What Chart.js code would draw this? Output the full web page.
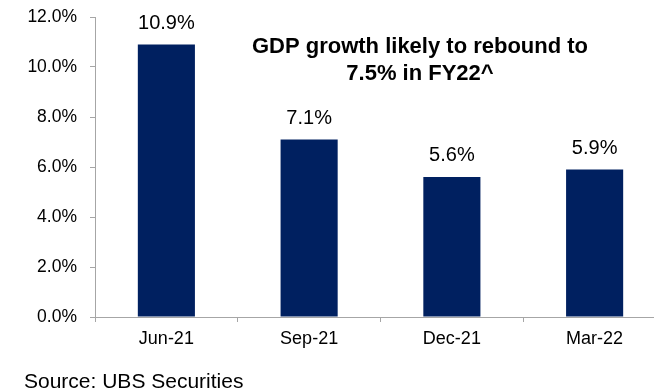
<!DOCTYPE html>
<html>
<head>
<meta charset="utf-8">
<script src="https://cdn.jsdelivr.net/npm/chart.js@4/dist/chart.umd.min.js"></script>
<style>
  html, body { margin: 0; padding: 0; background: #fff; overflow: hidden; }
  #wrap { position: relative; width: 666px; height: 390px; }
</style>
</head>
<body>
<div id="wrap"><canvas id="c" width="666" height="390"></canvas></div>
<script>
// Quarterly real GDP growth, year on year (%)
const quarters = ['Jun-21', 'Sep-21', 'Dec-21', 'Mar-22'];
const gdpGrowth = [10.9, 7.1, 5.6, 5.9];
const yTicks = [0, 2, 4, 6, 8, 10, 12];
const titleLines = ['GDP growth likely to rebound to', '7.5% in FY22^'];
const sourceNote = 'Source: UBS Securities';

const FONT = "'Liberation Sans', Arial, Helvetica, sans-serif";
const NAVY = '#002060';
const AXIS_GREY = '#a6a6a6';

// Value labels above each bar, plus the headline and source note
const annotate = {
  id: 'annotate',
  afterDatasetsDraw(chart) {
    const ctx = chart.ctx;
    const meta = chart.getDatasetMeta(0);
    ctx.save();
    ctx.fillStyle = '#000';
    ctx.textAlign = 'center';
    ctx.textBaseline = 'alphabetic';
    ctx.font = '20px ' + FONT;
    meta.data.forEach((bar, i) => {
      ctx.fillText(gdpGrowth[i].toFixed(1) + '%', bar.x, bar.y - 16);
    });

    ctx.font = 'bold 22px ' + FONT;
    ctx.fillText(titleLines[0], 420, 53);
    ctx.fillText(titleLines[1], 420, 80);

    ctx.textAlign = 'left';
    ctx.font = '21px ' + FONT;
    ctx.fillText(sourceNote, 24, 388);
    ctx.restore();
  }
};

const chart = new Chart(document.getElementById('c'), {
  type: 'bar',
  data: {
    labels: quarters,
    datasets: [{
      data: gdpGrowth,
      backgroundColor: NAVY,
      borderWidth: 0,
      categoryPercentage: 1.0,
      barPercentage: 0.4
    }]
  },
  options: {
    responsive: false,
    animation: false,
    devicePixelRatio: 1,
    layout: { padding: { top: 17, left: 0, right: 0, bottom: 0 } },
    plugins: {
      legend: { display: false },
      tooltip: { enabled: false },
      title: { display: false }
    },
    scales: {
      x: {
        offset: true,
        grid: {
          display: true,
          drawOnChartArea: false,
          drawTicks: true,
          tickLength: 5,
          color: AXIS_GREY,
          offset: true
        },
        border: { display: true, color: AXIS_GREY, width: 1 },
        ticks: {
          color: '#000',
          font: { family: FONT, size: 18 },
          padding: 6,
          maxRotation: 0
        },
        afterFit(scale) {
          scale.height = 73;
          scale.paddingLeft = 0;
          scale.paddingRight = 0;
        }
      },
      y: {
        min: 0,
        max: 12,
        afterBuildTicks(scale) { scale.ticks = yTicks.map(v => ({ value: v })); },
        grid: {
          display: true,
          drawOnChartArea: false,
          drawTicks: true,
          tickLength: 5,
          color: AXIS_GREY
        },
        border: { display: true, color: AXIS_GREY, width: 1 },
        ticks: {
          color: '#000',
          font: { family: FONT, size: 17.5 },
          padding: 13,
          callback: v => v.toFixed(1) + '%'
        },
        afterFit(scale) {
          scale.width = 95;
          scale.paddingTop = 0;
          scale.paddingBottom = 0;
        }
      }
    }
  },
  plugins: [annotate]
});
</script>
</body>
</html>
